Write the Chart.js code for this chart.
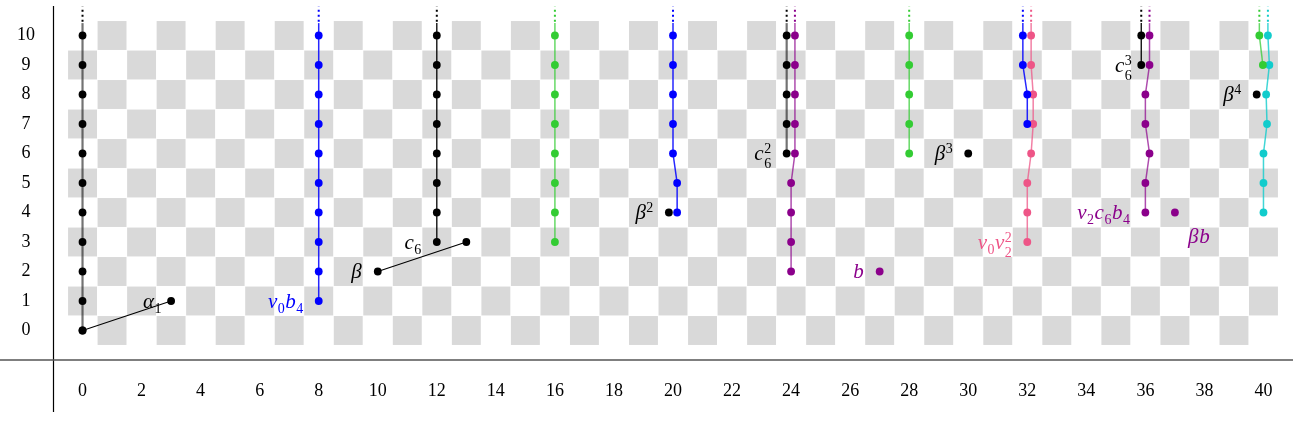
<!DOCTYPE html>
<html><head><meta charset="utf-8">
<script src="https://cdn.jsdelivr.net/npm/chart.js@4.4.0/dist/chart.umd.min.js"></script>
<style>html,body{margin:0;padding:0;background:#fff;}canvas{display:block;}</style>
</head><body>
<canvas id="c" width="1300" height="443"></canvas>
<script>
// ---- tick labels ----
const xTicks = [0,2,4,6,8,10,12,14,16,18,20,22,24,26,28,30,32,34,36,38,40];
const xTickLabels = ['0','2','4','6','8','10','12','14','16','18','20','22','24','26','28','30','32','34','36','38','40'];
const yTicks = [0,1,2,3,4,5,6,7,8,9,10];
const yTickLabels = ['0','1','2','3','4','5','6','7','8','9','10'];

// ---- towers (x positions slightly offset where two towers share a column) ----
const black0X = [0,0,0,0,0,0,0,0,0,0,0];
const black0Y = [0,1,2,3,4,5,6,7,8,9,10];
const blue8X = [8,8,8,8,8,8,8,8,8,8];
const blue8Y = [1,2,3,4,5,6,7,8,9,10];
const black12X = [12,12,12,12,12,12,12,12];
const black12Y = [3,4,5,6,7,8,9,10];
const green16X = [16,16,16,16,16,16,16,16];
const green16Y = [3,4,5,6,7,8,9,10];
const blue20X = [20.14,20.14,20,20,20,20,20];
const blue20Y = [4,5,6,7,8,9,10];
const black24X = [23.85,23.85,23.85,23.85,23.85];
const black24Y = [6,7,8,9,10];
const purple24X = [24,24,24,24,24.13,24.13,24.13,24.13,24.13];
const purple24Y = [2,3,4,5,6,7,8,9,10];
const green28X = [28,28,28,28,28];
const green28Y = [6,7,8,9,10];
const blue32X = [32,32,31.85,31.85];
const blue32Y = [7,8,9,10];
const pink32X = [32,32,32,32.13,32.2,32.2,32.13,32.13];
const pink32Y = [3,4,5,6,7,8,9,10];
const black36X = [35.86,35.86];
const black36Y = [9,10];
const purple36X = [36,36,36.14,36,36,36.14,36.14];
const purple36Y = [4,5,6,7,8,9,10];
const green40X = [39.98,39.86];
const green40Y = [9,10];
const cyan40X = [40,40,40,40.12,40.09,40.2,40.15];
const cyan40Y = [4,5,6,7,8,9,10];

// ---- multiplication lines ----
const alpha1X = [0,3];
const alpha1Y = [0,1];
const betaX = [10,13];
const betaY = [2,3];

// ---- isolated classes ----
const blackDotsX = [19.86,30,39.77];
const blackDotsY = [4,6,8];
const purpleDotsX = [27,37];
const purpleDotsY = [2,4];

// ---- labels ----
const labelText  = ['α_1','v_0b_4','β','c_6','β^2','c_6^2','b','β^3','v_0v_2^2','c_6^3','v_2c_6b_4','βb','β^4'];
const labelX     = [3,8,10,12,19.86,23.85,27,30,32,35.86,36,37,39.77];
const labelY     = [1,1,2,3,4,6,2,6,3,9,4,4,8];
const labelColor = ['black','blue','black','black','black','black','purple','black','pink','black','purple','purple','black'];
const labelPlace = ['near','left','left','left','left','left','left','left','left','near','left','belowright','left'];

const COLORS = {black:'#000000', blue:'#0000ff', green:'#33cc33', purple:'#8b008b', pink:'#ee5587', cyan:'#11cccc'};
const LINECOLORS = {black:'rgba(0,0,0,0.55)', blue:'rgba(0,0,255,0.85)', green:'rgba(51,204,51,0.75)', purple:'rgba(139,0,139,0.7)', pink:'rgba(238,85,135,0.75)', cyan:'rgba(17,204,204,0.8)'};

function pts(xs, ys){ return xs.map((x,i)=>({x:x, y:ys[i]})); }
function tower(xs, ys, col, opts){
  opts = opts || {};
  return {
    data: pts(xs, ys), showLine: true,
    borderColor: opts.lineColor || LINECOLORS[col], borderWidth: opts.lineWidth || 1.5,
    pointRadius: 3.9, pointBorderWidth: 0, pointBackgroundColor: COLORS[col], pointHoverRadius: 3.9,
    infinite: opts.infinite !== false, dotColor: COLORS[col]
  };
}
function dots(xs, ys, col){
  return {data: pts(xs, ys), showLine: false, pointRadius: 3.9, pointBorderWidth: 0,
    pointBackgroundColor: COLORS[col], pointHoverRadius: 3.9, infinite: false};
}
function seg(xs, ys){
  return {data: pts(xs, ys), showLine: true, borderColor: '#000', borderWidth: 1.1,
    pointRadius: 3.9, pointBorderWidth: 0, pointBackgroundColor: '#000', pointHoverRadius: 3.9, infinite:false};
}

const datasets = [
  tower(black0X, black0Y, 'black', {lineWidth: 2.2}),
  tower(blue8X, blue8Y, 'blue'),
  tower(black12X, black12Y, 'black', {lineColor:'#000', lineWidth:1.3}),
  tower(green16X, green16Y, 'green'),
  tower(blue20X, blue20Y, 'blue'),
  tower(purple24X, purple24Y, 'purple'),
  tower(black24X, black24Y, 'black', {lineWidth: 2.2}),
  tower(green28X, green28Y, 'green'),
  tower(blue32X, blue32Y, 'blue'),
  tower(pink32X, pink32Y, 'pink'),
  tower(purple36X, purple36Y, 'purple'),
  tower(black36X, black36Y, 'black', {lineColor:'#000', lineWidth:1.3}),
  tower(green40X, green40Y, 'green'),
  tower(cyan40X, cyan40Y, 'cyan'),
  seg(alpha1X, alpha1Y),
  seg(betaX, betaY),
  dots(blackDotsX, blackDotsY, 'black'),
  dots(purpleDotsX, purpleDotsY, 'purple')
];

const checkerPlugin = {
  id: 'checker',
  beforeDatasetsDraw(chart){
    const {ctx, scales:{x, y}} = chart;
    ctx.save();
    ctx.fillStyle = '#d9d9d9';
    const x0 = xTicks[0], x1 = xTicks[xTicks.length-1];
    const y0 = yTicks[0], y1 = yTicks[yTicks.length-1];
    for (let i = x0; i <= x1; i++){
      for (let j = y0; j <= y1; j++){
        if ((i + j) % 2 === 1){
          const l = x.getPixelForValue(i-0.5), r = x.getPixelForValue(i+0.5);
          const t = y.getPixelForValue(j+0.5), b = y.getPixelForValue(j-0.5);
          ctx.fillRect(l+0.3, t+0.3, r-l-0.6, b-t-0.6);
        }
      }
    }
    ctx.restore();
  },
  afterDatasetsDraw(chart){
    const {ctx, scales:{x, y}} = chart;
    ctx.save();
    chart.data.datasets.forEach(ds => {
      if (!ds.infinite) return;
      const top = ds.data[ds.data.length-1];
      const px = x.getPixelForValue(top.x);
      ctx.strokeStyle = ds.borderColor;
      ctx.lineWidth = ds.borderWidth;
      ctx.setLineDash([]);
      ctx.beginPath();
      ctx.moveTo(px, y.getPixelForValue(top.y));
      ctx.lineTo(px, y.getPixelForValue(top.y + 0.42));
      ctx.stroke();
      ctx.strokeStyle = ds.dotColor;
      ctx.lineWidth = 2;
      ctx.setLineDash([2,3]);
      ctx.beginPath();
      ctx.moveTo(px, y.getPixelForValue(top.y + 0.47));
      ctx.lineTo(px, y.getPixelForValue(top.y + 0.98));
      ctx.stroke();
    });
    ctx.setLineDash([]);
    labelText.forEach((txt, i) => drawLabel(ctx, txt, x.getPixelForValue(labelX[i]), y.getPixelForValue(labelY[i]), COLORS[labelColor[i]], labelPlace[i]));
    ctx.restore();
  },
  afterDraw(chart){
    const {ctx, chartArea} = chart;
    ctx.save();
    ctx.strokeStyle = '#000';
    ctx.lineWidth = 1.2;
    ctx.beginPath();
    ctx.moveTo(chartArea.left + 0.5, 6);
    ctx.lineTo(chartArea.left + 0.5, 412);
    ctx.stroke();
    ctx.strokeStyle = '#555';
    ctx.lineWidth = 1.6;
    ctx.beginPath();
    ctx.moveTo(0, chartArea.bottom);
    ctx.lineTo(chartArea.right, chartArea.bottom);
    ctx.stroke();
    ctx.restore();
  }
};

const MAINFONT = 'italic 21px "Liberation Serif"';
const SCRIPTFONT = '14px "Liberation Serif"';
function parseLabel(s){
  const toks = [];
  const chars = Array.from(s);
  for (let i = 0; i < chars.length; i++){
    const c = chars[i];
    if ((c === '_' || c === '^') && toks.length){
      const t = toks[toks.length-1];
      if (c === '_') t.sub = chars[++i]; else t.sup = chars[++i];
    } else toks.push({base: c});
  }
  return toks;
}
function drawLabel(ctx, s, px, py, color, place){
  const toks = parseLabel(s);
  let w = 0;
  const widths = toks.map(t => {
    ctx.font = MAINFONT; const bw = ctx.measureText(t.base).width;
    ctx.font = SCRIPTFONT;
    const sw = Math.max(t.sub ? ctx.measureText(t.sub).width : 0, t.sup ? ctx.measureText(t.sup).width : 0);
    const tw = bw + (sw ? sw + 1 : 1);
    w += tw;
    return {bw, tw};
  });
  let x, base;
  if (place === 'belowright'){ x = px + 13; base = py + 30; }
  else if (place === 'near'){ x = px - 9 - w; base = py + 6.5; }
  else { x = px - 15 - w; base = py + 6.5; }
  ctx.fillStyle = color;
  ctx.textBaseline = 'alphabetic';
  ctx.textAlign = 'left';
  toks.forEach((t, i) => {
    ctx.font = MAINFONT;
    ctx.fillText(t.base, x, base);
    ctx.font = SCRIPTFONT;
    const sx = x + widths[i].bw + 0.5;
    if (t.sub) ctx.fillText(t.sub, sx, base + (t.sup ? 8 : 5));
    if (t.sup) ctx.fillText(t.sup, sx, base - 7);
    x += widths[i].tw;
  });
}

new Chart(document.getElementById('c'), {
  type: 'scatter',
  data: {datasets},
  options: {
    responsive: false, animation: false, devicePixelRatio: 1,
    layout: {padding: {top: 6, right: 7, left: 0, bottom: 0}},
    plugins: {legend: {display: false}, tooltip: {enabled: false}},
    events: [],
    scales: {
      x: {
        type: 'linear', min: -1, max: 41,
        grid: {display: false, drawTicks: false}, border: {display: false},
        afterBuildTicks: s => { s.ticks = xTicks.map(v => ({value: v})); },
        afterFit: s => { s.height = 83; s.paddingLeft = 0; s.paddingRight = 0; },
        ticks: {padding: 20, color: '#000', font: {family: '"Liberation Serif"', size: 18},
          maxRotation: 0, autoSkip: false, callback: (v, i) => xTickLabels[i]}
      },
      y: {
        type: 'linear', min: -1, max: 11,
        grid: {display: false, drawTicks: false}, border: {display: false},
        afterBuildTicks: s => { s.ticks = yTicks.map(v => ({value: v})); },
        afterFit: s => { s.width = 53; s.paddingTop = 0; s.paddingBottom = 0; },
        ticks: {padding: 18, crossAlign: 'center', color: '#000', font: {family: '"Liberation Serif"', size: 18},
          autoSkip: false, callback: (v, i) => yTickLabels[i]}
      }
    }
  },
  plugins: [checkerPlugin]
});
</script>
</body></html>
